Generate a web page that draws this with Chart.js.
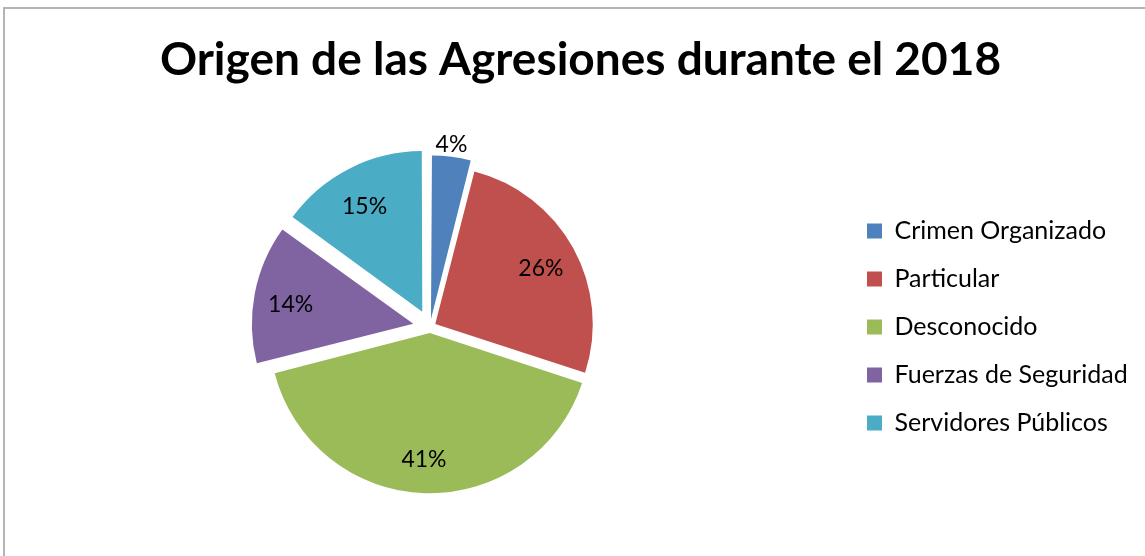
<!DOCTYPE html>
<html>
<head>
<meta charset="utf-8">
<script src="https://cdn.jsdelivr.net/npm/chart.js@4.4.1/dist/chart.umd.min.js"></script>
<style>
    html, body {
        margin: 0;
        padding: 0;
        background: #ffffff;
        overflow: hidden;
    }
    #frame {
        position: absolute;
        left: 3px;
        top: 7px;
        width: 1300px;
        height: 700px;
        border-top: 2px solid #b4b4b4;
        border-left: 2px solid #b4b4b4;
    }
    #wrap {
        position: absolute;
        left: 0;
        top: 0;
        width: 1145px;
        height: 556px;
    }
</style>
</head>
<body>
<div id="frame"></div>
<div id="wrap"><canvas id="myChart"></canvas></div>
<script>
// Datos del grafico
const categories = ["Crimen Organizado", "Particular", "Desconocido", "Fuerzas de Seguridad", "Servidores Públicos"];
const values = [4, 26, 41, 14, 15];
const valueLabels = ["4%", "26%", "41%", "14%", "15%"];
const sliceColors = ["#4f81bd", "#c0504d", "#9bbb59", "#8064a2", "#4bacc6"];
const sliceOffsets = [32, 24, 24, 68, 68];

const FONT = "Lato, 'Open Sans', sans-serif";

// Etiquetas de porcentaje sobre cada porcion
const sliceLabels = {
    id: "sliceLabels",
    afterDatasetsDraw(chart) {
        const ctx = chart.ctx;
        const meta = chart.getDatasetMeta(0);
        ctx.save();
        ctx.font = "23px " + FONT;
        ctx.fillStyle = "#000000";
        ctx.textAlign = "center";
        ctx.textBaseline = "middle";
        meta.data.forEach((arc, i) => {
            const p = arc.getProps(["x", "y", "startAngle", "endAngle", "outerRadius"], true);
            const mid = (p.startAngle + p.endAngle) / 2;
            const shift = (arc.options.offset || 0) / 4;
            // la porcion pequena lleva la etiqueta fuera
            const r = values[i] < 5 ? p.outerRadius + 22 : p.outerRadius * 0.78;
            const x = p.x + Math.cos(mid) * (r + shift) - 2;
            const y = p.y + Math.sin(mid) * (r + shift) + 4;
            ctx.fillText(valueLabels[i], x, y);
        });
        ctx.restore();
    }
};

// Ancho fijo de la leyenda y centrado vertical junto al pastel
const legendBox = {
    id: "legendBox",
    beforeInit(chart) {
        const origFit = chart.legend.fit;
        chart.legend.fit = function () {
            origFit.bind(chart.legend)();
            this.width = 301;
        };
    },
    beforeDraw(chart) {
        const lg = chart.legend;
        lg.top = chart.chartArea.top;
        lg.bottom = chart.chartArea.bottom;
        lg.height = lg.bottom - lg.top;
    }
};

function initChart() {
    const ctx = document.getElementById("myChart");
    if (!ctx) return;

    const config = {
        type: "pie",
        data: {
            labels: categories,
            datasets: [
                {
                    data: values,
                    backgroundColor: sliceColors,
                    borderWidth: 0,
                    offset: sliceOffsets,
                },
            ],
        },
        options: {
            responsive: true,
            maintainAspectRatio: false,
            animation: false,
            layout: {
                padding: { left: 16, right: 0, top: 0, bottom: 37.5 },
            },
            plugins: {
                title: {
                    display: true,
                    text: "Origen de las Agresiones durante el 2018",
                    color: "#000000",
                    font: { family: FONT, size: 46, weight: "bold" },
                    padding: { top: 33, bottom: 47.3 },
                },
                legend: {
                    position: "right",
                    labels: {
                        color: "#000000",
                        font: { family: FONT, size: 25 },
                        boxWidth: 15,
                        boxHeight: 15,
                        padding: 23,
                    },
                },
                tooltip: { enabled: false },
            },
        },
        plugins: [sliceLabels, legendBox],
    };

    return new Chart(ctx, config);
}

initChart();
</script>
</body>
</html>
